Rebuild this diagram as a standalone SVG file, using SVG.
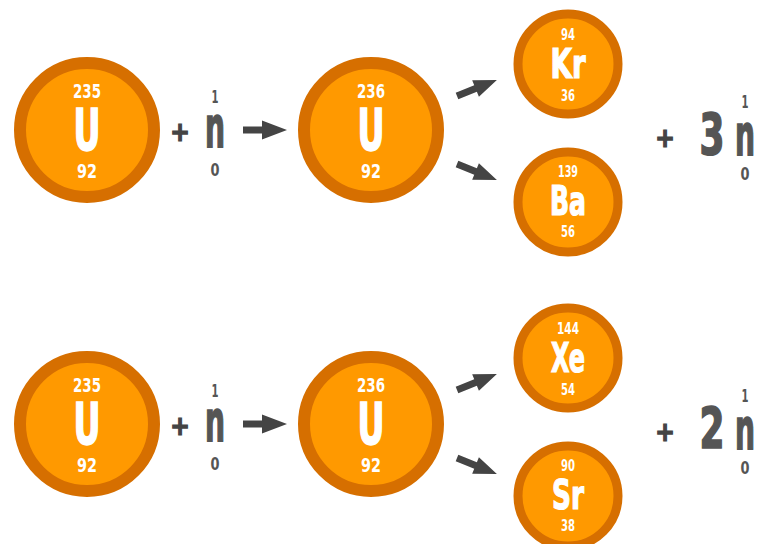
<svg xmlns="http://www.w3.org/2000/svg" width="760" height="544" viewBox="0 0 760 544">
<style>
.big{fill:#FF9900;stroke:#D66F00;stroke-width:12}
.sm{fill:#FF9900;stroke:#D66F00;stroke-width:9}
text{font-family:"DejaVu Sans Condensed","Liberation Sans Narrow","Liberation Sans",sans-serif;font-weight:bold;text-anchor:middle}
.w{fill:#fff}
.g{fill:#555}
.num{font-size:20px}
.snum{font-size:15px}
.sym{font-size:57px;stroke:#fff;stroke-width:1.6}
.ssym{font-size:41px;stroke:#fff;stroke-width:1.2}
.nn{font-size:17px}
.n{font-size:57px;stroke:#555;stroke-width:1.6}
.plus{font-size:26px;fill:#444;stroke:#444;stroke-width:1.2}
.arr{fill:#444}
</style>
<defs>
<path id="arrow" d="M0,-3.5 H19 V-9.5 L44,0 L19,9.5 V3.5 H0 Z"/>
<path id="sarrow" d="M0,-3.5 H20 V-9 L43,0 L20,9 V3.5 H0 Z"/>
</defs>

<g id="row1">
<g id="u235a"><circle class="big" cx="87" cy="130" r="67"/><text class="w num" x="87" y="98" textLength="28" lengthAdjust="spacingAndGlyphs">235</text><text class="w sym" x="87" y="150" textLength="27" lengthAdjust="spacingAndGlyphs">U</text><text class="w num" x="87" y="178" textLength="20" lengthAdjust="spacingAndGlyphs">92</text></g>
<g id="n1a"><text class="plus" x="180" y="141">+</text><text class="g nn" x="215" y="103" textLength="7" lengthAdjust="spacingAndGlyphs">1</text><text class="g n" x="215" y="147" textLength="20" lengthAdjust="spacingAndGlyphs">n</text><text class="g nn" x="215" y="176" textLength="9" lengthAdjust="spacingAndGlyphs">0</text></g>
<g id="u236a"><circle class="big" cx="371" cy="130" r="67"/><text class="w num" x="371" y="98" textLength="28" lengthAdjust="spacingAndGlyphs">236</text><text class="w sym" x="371" y="150" textLength="27" lengthAdjust="spacingAndGlyphs">U</text><text class="w num" x="371" y="178" textLength="20" lengthAdjust="spacingAndGlyphs">92</text></g>
<g id="kr"><circle class="sm" cx="568" cy="64" r="50"/><text class="w snum" x="568" y="40" textLength="14" lengthAdjust="spacingAndGlyphs">94</text><text class="w ssym" x="568" y="78" textLength="35" lengthAdjust="spacingAndGlyphs">Kr</text><text class="w snum" x="568" y="101" textLength="14" lengthAdjust="spacingAndGlyphs">36</text></g>
<g id="ba"><circle class="sm" cx="568" cy="202" r="50"/><text class="w snum" x="568" y="177" textLength="20" lengthAdjust="spacingAndGlyphs">139</text><text class="w ssym" x="568" y="215" textLength="36" lengthAdjust="spacingAndGlyphs">Ba</text><text class="w snum" x="568" y="237" textLength="14" lengthAdjust="spacingAndGlyphs">56</text></g>
<g id="n3"><text class="plus" x="665" y="147">+</text><text class="g n" x="712" y="155" textLength="25" lengthAdjust="spacingAndGlyphs">3</text><text class="g nn" x="745" y="108" textLength="7" lengthAdjust="spacingAndGlyphs">1</text><text class="g n" x="745" y="155" textLength="20" lengthAdjust="spacingAndGlyphs">n</text><text class="g nn" x="745" y="180" textLength="9" lengthAdjust="spacingAndGlyphs">0</text></g>
</g>

<g id="row2">
<g id="u235b"><circle class="big" cx="87" cy="424" r="67"/><text class="w num" x="87" y="392" textLength="28" lengthAdjust="spacingAndGlyphs">235</text><text class="w sym" x="87" y="444" textLength="27" lengthAdjust="spacingAndGlyphs">U</text><text class="w num" x="87" y="472" textLength="20" lengthAdjust="spacingAndGlyphs">92</text></g>
<g id="n1b"><text class="plus" x="180" y="435">+</text><text class="g nn" x="215" y="397" textLength="7" lengthAdjust="spacingAndGlyphs">1</text><text class="g n" x="215" y="441" textLength="20" lengthAdjust="spacingAndGlyphs">n</text><text class="g nn" x="215" y="470" textLength="9" lengthAdjust="spacingAndGlyphs">0</text></g>
<g id="u236b"><circle class="big" cx="371" cy="424" r="67"/><text class="w num" x="371" y="392" textLength="28" lengthAdjust="spacingAndGlyphs">236</text><text class="w sym" x="371" y="444" textLength="27" lengthAdjust="spacingAndGlyphs">U</text><text class="w num" x="371" y="472" textLength="20" lengthAdjust="spacingAndGlyphs">92</text></g>
<g id="xe"><circle class="sm" cx="568" cy="358" r="50"/><text class="w snum" x="568" y="334" textLength="22" lengthAdjust="spacingAndGlyphs">144</text><text class="w ssym" x="568" y="372" textLength="34" lengthAdjust="spacingAndGlyphs">Xe</text><text class="w snum" x="568" y="395" textLength="14" lengthAdjust="spacingAndGlyphs">54</text></g>
<g id="sr"><circle class="sm" cx="568" cy="496" r="50"/><text class="w snum" x="568" y="471" textLength="14" lengthAdjust="spacingAndGlyphs">90</text><text class="w ssym" x="568" y="509" textLength="32" lengthAdjust="spacingAndGlyphs">Sr</text><text class="w snum" x="568" y="531" textLength="14" lengthAdjust="spacingAndGlyphs">38</text></g>
<g id="n2"><text class="plus" x="665" y="441">+</text><text class="g n" x="712" y="449" textLength="25" lengthAdjust="spacingAndGlyphs">2</text><text class="g nn" x="745" y="402" textLength="7" lengthAdjust="spacingAndGlyphs">1</text><text class="g n" x="745" y="449" textLength="20" lengthAdjust="spacingAndGlyphs">n</text><text class="g nn" x="745" y="474" textLength="9" lengthAdjust="spacingAndGlyphs">0</text></g>
</g>

<g id="connectors" class="arr">
<use href="#arrow" transform="translate(243,130)"/>
<use href="#sarrow" transform="translate(457,96) rotate(-22)"/>
<use href="#sarrow" transform="translate(457,164) rotate(22)"/>
<use href="#arrow" transform="translate(243,424)"/>
<use href="#sarrow" transform="translate(457,390) rotate(-22)"/>
<use href="#sarrow" transform="translate(457,458) rotate(22)"/>
</g>
</svg>
